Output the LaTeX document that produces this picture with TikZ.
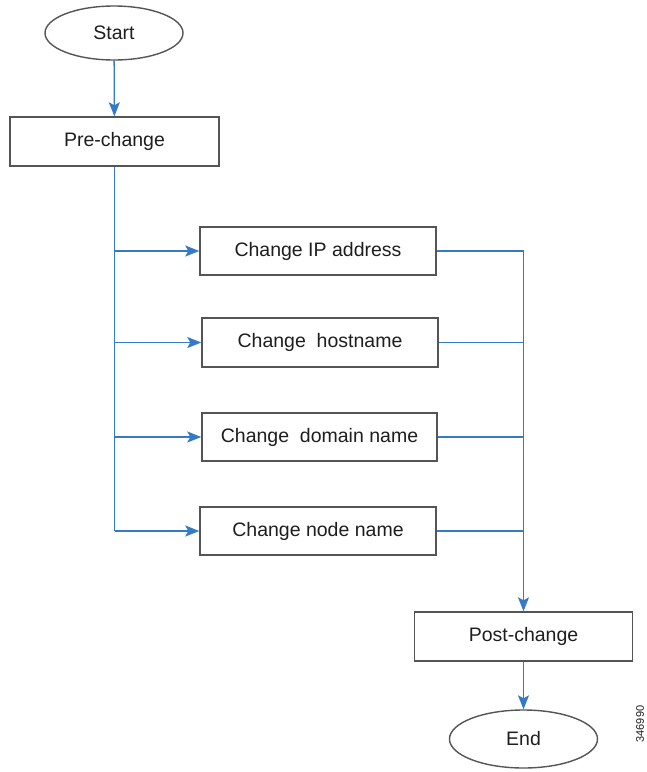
\documentclass[tikz,border=0pt]{standalone}
\usepackage{fontspec}
\setmainfont{Liberation Sans}
\usetikzlibrary{shapes.geometric,arrows.meta}
\definecolor{flowblue}{RGB}{52,122,198}
\definecolor{boxgray}{RGB}{85,85,85}
\definecolor{txt}{RGB}{30,30,30}
\tikzset{
  boxnode/.style={draw=boxgray,line width=1.4pt,rectangle,minimum height=48pt,text=txt,font=\fontsize{19.5}{23}\selectfont,inner sep=0pt},
  termnode/.style={draw=boxgray,line width=1.4pt,ellipse,text=txt,font=\fontsize{19.5}{23}\selectfont,inner sep=0pt},
  flow/.style={draw=flowblue,line width=1.3pt},
  flowarrow/.style={flow,-{Stealth[length=14pt,width=11pt,inset=3pt]}}
}
\begin{document}
\begin{tikzpicture}[x=1pt,y=-1pt]
\useasboundingbox (0,0) rectangle (647,772);
\fill[white] (0,0) rectangle (647,772);
\node[termnode,minimum width=138pt,minimum height=54pt] (start) at (114,33) {Start};
\node[boxnode,minimum width=209pt,minimum height=49pt] (pre) at (114.5,141.5) {Pre-change};
\node[boxnode,minimum width=236pt] (ip) at (318,251) {Change IP address};
\node[boxnode,minimum width=236pt,minimum height=49pt] (host) at (320,342.5) {Change\ \ hostname};
\node[boxnode,minimum width=235pt] (dom) at (319.5,437) {Change\ \ domain name};
\node[boxnode,minimum width=236pt] (nn) at (318,531) {Change node name};
\node[boxnode,minimum width=218pt,minimum height=49pt] (post) at (523.5,636.5) {Post-change};
\node[termnode,minimum width=148pt,minimum height=58pt] (end) at (523.5,739) {End};
\node[rotate=90,text=txt,font=\fontsize{11}{13}\selectfont,inner sep=0pt] (id) at (640,724) {346990};

\coordinate (l1) at (114.5,251);
\coordinate (l2) at (114.5,342.5);
\coordinate (l3) at (114.5,437);
\coordinate (l4) at (114.5,531);
\coordinate (r1) at (523.5,251);
\coordinate (r2) at (523.5,342.5);
\coordinate (r3) at (523.5,437);
\coordinate (r4) at (523.5,531);

\draw[flowarrow] (start) -- (pre);
\draw[flow] (pre.south) -- (l4);
\draw[flowarrow] (l1) -- (ip.west);
\draw[flowarrow] (l2) -- (host.west);
\draw[flowarrow] (l3) -- (dom.west);
\draw[flowarrow] (l4) -- (nn.west);
\draw[flow] (ip.east) -- (r1);
\draw[flow] (host.east) -- (r2);
\draw[flow] (dom.east) -- (r3);
\draw[flow] (nn.east) -- (r4);
\draw[flowarrow] (r1) -- (post.north);
\draw[flowarrow] (post) -- (end);
\end{tikzpicture}
\end{document}
